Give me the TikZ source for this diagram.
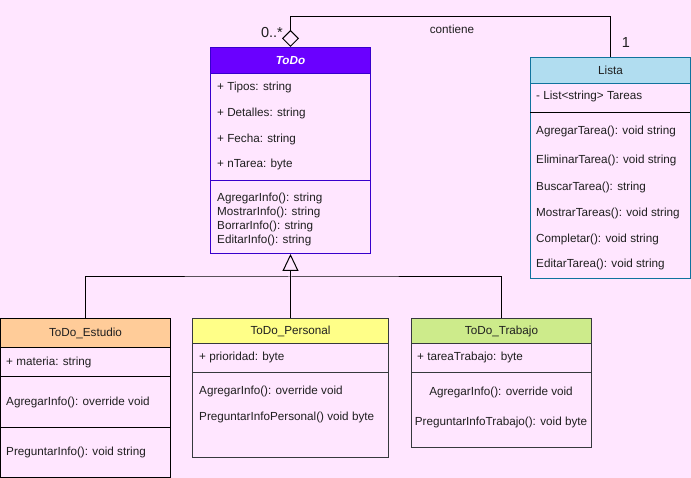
\documentclass[tikz,border=0pt]{standalone}
\usepackage{fontspec}
\setmainfont{Liberation Sans}
\usetikzlibrary{arrows.meta}
\definecolor{bg}{HTML}{FFE6FF}
\definecolor{todoB}{HTML}{3700CC}
\definecolor{todoH}{HTML}{6A00FF}
\definecolor{listaB}{HTML}{10739E}
\definecolor{listaH}{HTML}{B1DDF0}
\definecolor{estH}{HTML}{FFCC99}
\definecolor{perH}{HTML}{FFFF88}
\definecolor{traH}{HTML}{CDEB8B}
\definecolor{grayB}{HTML}{36393D}
\definecolor{txt}{HTML}{1F1F1F}
\tikzset{
  cls/.style={rectangle, anchor=north west, inner sep=0pt, line width=1pt},
  hdr/.style={cls, text=txt},
  item/.style={anchor=west, inner sep=0pt, text=txt, yshift=-0.8pt},
  citem/.style={anchor=center, inner sep=0pt, text=txt, yshift=-0.8pt},
  conn/.style={draw=black, line width=1pt},
  lbl/.style={inner sep=0pt, text=txt},
  mult/.style={lbl, font=\fontsize{14.5}{16}\selectfont}
}
\begin{document}
\begin{tikzpicture}[x=1pt,y=-1pt,font=\fontsize{11.7}{14}\selectfont]
\fill[bg] (0,0) rectangle (691,478);
\useasboundingbox (0,0) rectangle (691,478);

% ToDo
\node[cls, draw=todoB, minimum width=160pt, minimum height=206pt] (todo) at (210,47) {};
\node[hdr, draw=todoB, fill=todoH, text=white, minimum width=160pt, minimum height=26pt, font=\fontsize{11.7}{14}\selectfont\bfseries\itshape] (todoh) at (210,47) {ToDo};
\node[item] (todoa1) at (217,87) {+ Tipos: string};
\node[item] (todoa2) at (217,113) {+ Detalles: string};
\node[item] (todoa3) at (217,139) {+ Fecha: string};
\node[item] (todoa4) at (217,164) {+ nTarea: byte};
\draw[todoB, line width=1pt] (210,181) -- (370,181);
\node[item] (todom1) at (217,198) {AgregarInfo(): string};
\node[item] (todom2) at (217,212) {MostrarInfo(): string};
\node[item] (todom3) at (217,226) {BorrarInfo(): string};
\node[item] (todom4) at (217,240) {EditarInfo(): string};

% Lista
\node[cls, draw=listaB, minimum width=160pt, minimum height=221pt] (lista) at (530,57) {};
\node[hdr, draw=listaB, fill=listaH, minimum width=160pt, minimum height=26pt] (listah) at (530,57) {Lista};
\node[item] (listaa1) at (536,96) {- List<string> Tareas};
\draw[black, line width=1pt] (530,113) -- (690,113);
\node[item] (listam1) at (536,131) {AgregarTarea(): void string};
\node[item] (listam2) at (536,160) {EliminarTarea(): void string};
\node[item] (listam3) at (536,187) {BuscarTarea(): string};
\node[item] (listam4) at (536,213) {MostrarTareas(): void string};
\node[item] (listam5) at (536,239) {Completar(): void string};
\node[item] (listam6) at (536,264) {EditarTarea(): void string};

% ToDo_Estudio
\node[cls, draw=black, minimum width=170pt, minimum height=159pt] (est) at (0,318) {};
\node[hdr, draw=black, fill=estH, minimum width=170pt, minimum height=29pt] (esth) at (0,318) {ToDo\_Estudio};
\node[item] (esta1) at (6,362) {+ materia: string};
\draw[black, line width=1pt] (0,377) -- (170,377);
\node[item] (estm1) at (6,402) {AgregarInfo(): override void};
\draw[black, line width=1pt] (0,427) -- (170,427);
\node[item] (estm2) at (6,452) {PreguntarInfo(): void string};

% ToDo_Personal
\node[cls, draw=grayB, minimum width=196pt, minimum height=139pt] (per) at (192,318) {};
\node[hdr, draw=grayB, fill=perH, minimum width=196pt, minimum height=25pt] (perh) at (192,318) {ToDo\_Personal};
\node[item] (pera1) at (199,357) {+ prioridad: byte};
\draw[grayB, line width=1pt] (192,373) -- (388,373);
\node[item] (perm1) at (199,391) {AgregarInfo(): override void};
\node[item] (perm2) at (199,417) {PreguntarInfoPersonal() void byte};

% ToDo_Trabajo
\node[cls, draw=grayB, minimum width=180pt, minimum height=129pt] (tra) at (411,318) {};
\node[hdr, draw=grayB, fill=traH, minimum width=180pt, minimum height=25pt] (trah) at (411,318) {ToDo\_Trabajo};
\node[item] (traa1) at (417,357) {+ tareaTrabajo: byte};
\draw[grayB, line width=1pt] (411,373) -- (591,373);
\node[citem] (tram1) at (501,392) {AgregarInfo(): override void};
\node[citem] (tram2) at (501,422) {PreguntarInfoTrabajo(): void byte};

% aggregation
\draw[conn, {Diamond[open,length=17pt,width=17pt]}-] (todoh.north) -- ++(0,-30) -| (listah.north);
\node[mult, anchor=east] (mult1) at (283,33) {0..*};
\node[lbl] (contiene) at (452,29) {contiene};
\node[mult] (mult2) at (626,43) {1};

% generalization
\coordinate (j) at (290,277);
\draw[conn] (esth.north) |- (j) -| (trah.north);
\draw[conn, -{Triangle[open,length=17pt,width=16pt]}] (perh.north) -- (todo.south);
\end{tikzpicture}
\end{document}
